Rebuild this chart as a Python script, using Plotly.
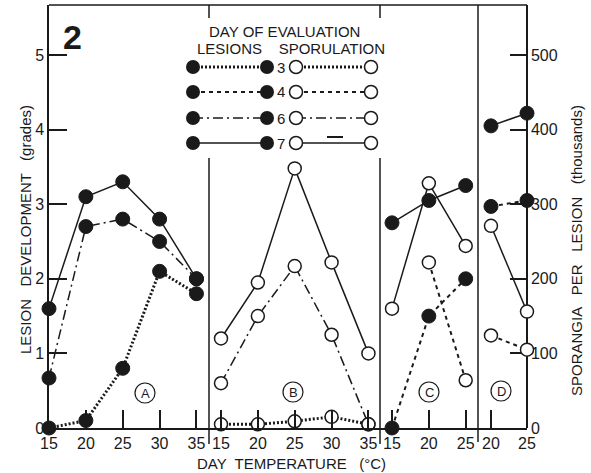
import plotly.graph_objects as go

# ---------------- data ----------------
temps_A = [15, 20, 25, 30, 35]
lesA_d3 = [0, 0.1, 0.8, 2.1, 1.8]
lesA_d6 = [0.67, 2.7, 2.8, 2.5, 2.0]
lesA_d7 = [1.6, 3.1, 3.3, 2.8, 2.0]

temps_B = [15, 20, 25, 30, 35]
spoB_d3 = [5, 5, 9, 15, 5]
spoB_d6 = [60, 150, 217, 125, 5]
spoB_d7 = [120, 195, 348, 222, 100]

temps_C = [15, 20, 25]
lesC_d4 = [0, 1.5, 2.0]
lesC_d7 = [2.75, 3.05, 3.25]
temps_C_spo4 = [20, 25]
spoC_d4 = [222, 64]
spoC_d7 = [160, 328, 244]

temps_D = [20, 25]
lesD_d4 = [2.97, 3.05]
lesD_d7 = [4.05, 4.22]
spoD_d4 = [124, 105]
spoD_d7 = [271, 156]

left_ticks = [0, 1, 2, 3, 4, 5]
right_ticks = [0, 100, 200, 300, 400, 500]
days = ["3", "4", "6", "7"]

# ---------------- styles ----------------
FONT = "Liberation Sans, Arial, sans-serif"
INK = "#1a1a1a"
STY = {
    "3": dict(dash="2px,2px", width=3),
    "4": dict(dash="4px,4px", width=2),
    "6": dict(dash="10px,4px,2px,4px", width=1.5),
    "7": dict(dash="solid", width=1.5),
}

def px(p):
    return (p - 49) / 478

def py(q):
    return (428 - q) / 423

fig = go.Figure()

def add(xs, ys, day, xa, ya, filled):
    marker = dict(size=14, color=INK, line=dict(color=INK, width=1)) if filled else \
        dict(size=13, color="white", line=dict(color=INK, width=1.5))
    fig.add_trace(go.Scatter(
        x=xs, y=ys, xaxis=xa, yaxis=ya, mode="lines+markers",
        line=dict(color=INK, **STY[day]), marker=marker,
        cliponaxis=False, showlegend=False, hoverinfo="skip"))

# panel A (lesions)
add(temps_A, lesA_d3, "3", "x", "y", True)
add(temps_A, lesA_d6, "6", "x", "y", True)
add(temps_A, lesA_d7, "7", "x", "y", True)
# panel B (sporulation)
add(temps_B, spoB_d3, "3", "x2", "y2", False)
add(temps_B, spoB_d6, "6", "x2", "y2", False)
add(temps_B, spoB_d7, "7", "x2", "y2", False)
# panel C
add(temps_C_spo4, spoC_d4, "4", "x3", "y2", False)
add(temps_C, spoC_d7, "7", "x3", "y2", False)
add(temps_C, lesC_d4, "4", "x3", "y", True)
add(temps_C, lesC_d7, "7", "x3", "y", True)
# panel D
add(temps_D, spoD_d4, "4", "x4", "y2", False)
add(temps_D, spoD_d7, "7", "x4", "y2", False)
add(temps_D, lesD_d4, "4", "x4", "y", True)
add(temps_D, lesD_d7, "7", "x4", "y", True)

# legend samples on a pixel-space overlay axis
leg_rows = [67, 92, 118, 143]
for day, yy in zip(days, leg_rows):
    fig.add_trace(go.Scatter(x=[193, 267], y=[yy, yy], xaxis="x5", yaxis="y5",
                             mode="lines+markers", line=dict(color=INK, **STY[day]),
                             marker=dict(size=14, color=INK), cliponaxis=False,
                             showlegend=False, hoverinfo="skip"))
    fig.add_trace(go.Scatter(x=[296, 371], y=[yy, yy], xaxis="x5", yaxis="y5",
                             mode="lines+markers", line=dict(color=INK, **STY[day]),
                             marker=dict(size=13, color="white", line=dict(color=INK, width=1.5)),
                             cliponaxis=False, showlegend=False, hoverinfo="skip"))

tickfont = dict(family=FONT, size=16, color=INK)
xcommon = dict(anchor="y", showgrid=False, zeroline=False, showline=True, linecolor=INK,
               linewidth=1.5, ticks="inside", ticklen=18, tickwidth=1.5, tickcolor=INK,
               tickfont=tickfont, fixedrange=True)

fig.update_layout(
    width=591, height=473,
    margin=dict(l=49, r=64, t=5, b=45),
    paper_bgcolor="white", plot_bgcolor="rgba(0,0,0,0)",
    font=dict(family=FONT, color=INK),
    xaxis=dict(domain=[0, px(209)], range=[15, 36.7], tickvals=temps_A, **xcommon),
    xaxis2=dict(domain=[px(209), px(380)], range=[13.37, 36.57], tickvals=temps_B, **xcommon),
    xaxis3=dict(domain=[px(380), px(478)], range=[13.37, 26.67], tickvals=temps_C, **xcommon),
    xaxis4=dict(domain=[px(478), 1], range=[18.2, 25], tickvals=temps_D, **xcommon),
    yaxis=dict(domain=[0, 1], range=[0, 5.67], tickvals=left_ticks, anchor="x", side="left",
               showgrid=False, zeroline=False, showline=True, linecolor=INK, linewidth=1.5,
               ticks="inside", ticklen=18, tickwidth=1.5, tickcolor=INK, tickfont=tickfont,
               fixedrange=True),
    yaxis2=dict(overlaying="y", range=[0, 567], tickvals=right_ticks, side="right",
                anchor="free", position=1,
                showgrid=False, zeroline=False, showline=True, linecolor=INK, linewidth=1.5,
                ticks="inside", ticklen=16, tickwidth=1.5, tickcolor=INK, tickfont=tickfont,
                fixedrange=True),
    xaxis5=dict(domain=[0, 1], range=[49, 527], visible=False, anchor="y5", fixedrange=True),
    yaxis5=dict(domain=[0, 1], range=[428, 5], visible=False, anchor="x5", fixedrange=True),
)

shapes = []
def seg(x0, y0, x1, y1, w=1.5):
    shapes.append(dict(type="line", xref="paper", yref="paper",
                       x0=px(x0), y0=py(y0), x1=px(x1), y1=py(y1),
                       line=dict(color=INK, width=w)))
# frame top, dividers
seg(49, 5, 527, 5)
seg(209, 158, 209, 444)
seg(209, 5, 209, 18)
seg(380, 158, 380, 444)
seg(380, 5, 380, 18)
seg(478, 5, 478, 442)
seg(327, 137, 343, 137, 2)   # small mark in legend

circ = [("A", 145, 393), ("B", 293, 392), ("C", 429, 392), ("D", 501, 391)]
for lab, cx, cy in circ:
    shapes.append(dict(type="circle", xref="paper", yref="paper", xsizemode="pixel",
                       ysizemode="pixel", xanchor=px(cx), yanchor=py(cy),
                       x0=-10, x1=10, y0=-10, y1=10, line=dict(color=INK, width=1.2)))
fig.update_layout(shapes=shapes)

ann = []
def text(t, x, y, size, angle=0, bold=False):
    ann.append(dict(text=("<b>%s</b>" % t) if bold else t, xref="paper", yref="paper",
                    x=px(x), y=py(y), showarrow=False, textangle=angle,
                    xanchor="center", yanchor="middle",
                    font=dict(family=FONT, size=size, color=INK)))

for lab, cx, cy in circ:
    text(lab, cx, cy, 13)
text("2", 72, 37, 34, bold=True)
text("DAY OF EVALUATION", 284, 32, 15)
text("LESIONS    SPORULATION", 291, 48, 15)
for day, yy in zip(days, leg_rows):
    text(day, 281, yy, 15)
text("LESION   DEVELOPMENT   (grades)", 25, 230, 15, angle=-90)
text("SPORANGIA   PER   LESION   (thousands)", 577, 251, 15, angle=-90)
text("DAY  TEMPERATURE   (°C)", 291, 463, 15)
fig.update_layout(annotations=ann)

fig.write_html("out.html", config={"displayModeBar": False},
               post_script="document.body.style.margin='0px';document.body.style.overflow='hidden';")
